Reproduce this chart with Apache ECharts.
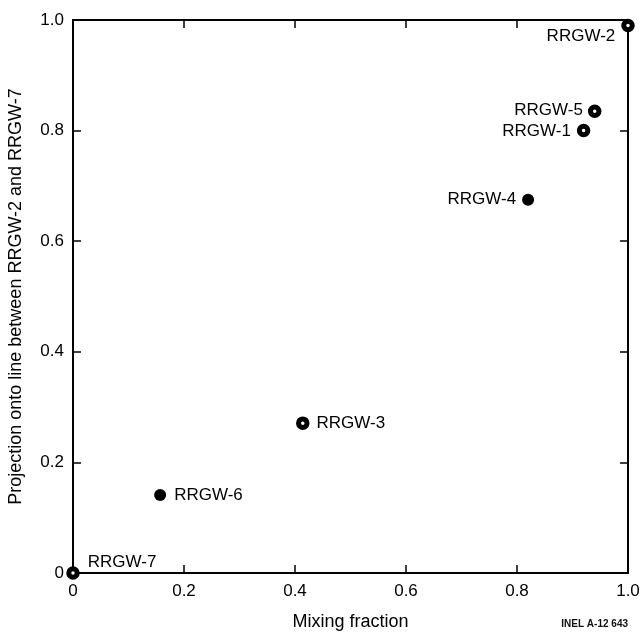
<!DOCTYPE html>
<html>
<head>
<meta charset="utf-8">
<script src="https://cdn.jsdelivr.net/npm/echarts@6/dist/echarts.min.js"></script>
<style>html,body{margin:0;padding:0;background:#fff}#c{width:642px;height:633px}</style>
</head>
<body>
<div id="c"></div>
<script>
// ---- data ----
const wellNames = ['RRGW-7', 'RRGW-6', 'RRGW-3', 'RRGW-4', 'RRGW-1', 'RRGW-5', 'RRGW-2'];
const mixingFraction = [0.0, 0.157, 0.414, 0.82, 0.92, 0.94, 1.0];
const projection = [0.0, 0.141, 0.271, 0.675, 0.80, 0.835, 0.99];
const tickLabels = ['0', '0.2', '0.4', '0.6', '0.8', '1.0'];

// ---- styles (not data) ----
const FONT = 'Liberation Sans, Arial, Helvetica, sans-serif';
const hollowWells = new Set(['RRGW-7', 'RRGW-3', 'RRGW-5', 'RRGW-1', 'RRGW-2']);
const labelStyle = {
  'RRGW-7': { position: 'right', distance: 8, offset: [0, -11] },
  'RRGW-6': { position: 'right', distance: 8, offset: [0, 0] },
  'RRGW-3': { position: 'right', distance: 7, offset: [0, 0] },
  'RRGW-4': { position: 'left', distance: 6, offset: [0, 0] },
  'RRGW-1': { position: 'left', distance: 6, offset: [0, 1] },
  'RRGW-5': { position: 'left', distance: 5, offset: [0, -1] },
  'RRGW-2': { position: 'left', distance: 6, offset: [0, 11] }
};

const tickFmt = v => tickLabels[Math.round(v / 0.2)] || '';

const points = wellNames.map((n, i) => {
  const hollow = hollowWells.has(n);
  return {
    name: n,
    value: [mixingFraction[i], projection[i]],
    symbolSize: hollow ? 8.5 : 12,
    itemStyle: hollow
      ? { color: '#fff', borderColor: '#000', borderWidth: 5, opacity: 1 }
      : { color: '#000', borderColor: '#000', borderWidth: 0, opacity: 1 },
    label: Object.assign({ show: true, formatter: n, color: '#000', fontSize: 17, fontFamily: FONT }, labelStyle[n])
  };
});

const axisLineStyle = { lineStyle: { color: '#000', width: 2 } };
const baseAxis = {
  type: 'value', min: 0, max: 1, interval: 0.2,
  splitLine: { show: false },
  axisLine: Object.assign({ show: true, onZero: false }, axisLineStyle),
  axisTick: { show: true, inside: true, length: 8, lineStyle: { color: '#000', width: 1.5 } }
};

const chart = echarts.init(document.getElementById('c'), null, { renderer: 'canvas' });
chart.setOption({
  animation: false,
  backgroundColor: '#fff',
  grid: { left: 73, right: 14, top: 20, bottom: 60, containLabel: false, outerBoundsMode: 'none' },
  xAxis: [
    Object.assign({}, baseAxis, {
      position: 'bottom',
      name: 'Mixing fraction', nameLocation: 'middle', nameGap: 40,
      nameTextStyle: { fontSize: 18, color: '#000', fontFamily: FONT },
      axisLabel: { formatter: tickFmt, fontSize: 17, color: '#000', fontFamily: FONT, margin: 10 }
    }),
    Object.assign({}, baseAxis, { position: 'top', axisLabel: { show: false } })
  ],
  yAxis: [
    Object.assign({}, baseAxis, {
      position: 'left',
      name: 'Projection onto line between RRGW-2 and RRGW-7', nameLocation: 'middle', nameGap: 48,
      nameTextStyle: { fontSize: 18, color: '#000', fontFamily: FONT },
      axisLabel: { formatter: tickFmt, fontSize: 17, color: '#000', fontFamily: FONT, margin: 9 }
    }),
    Object.assign({}, baseAxis, { position: 'right', axisLabel: { show: false } })
  ],
  series: [{
    type: 'scatter',
    xAxisIndex: 0, yAxisIndex: 0,
    symbol: 'circle',
    clip: false,
    data: points,
    z: 5
  }],
  graphic: [{
    type: 'text', right: 14, bottom: 4,
    style: { text: 'INEL A-12 643', font: 'bold 10px ' + FONT, fill: '#111' }
  }]
});
</script>
</body>
</html>
